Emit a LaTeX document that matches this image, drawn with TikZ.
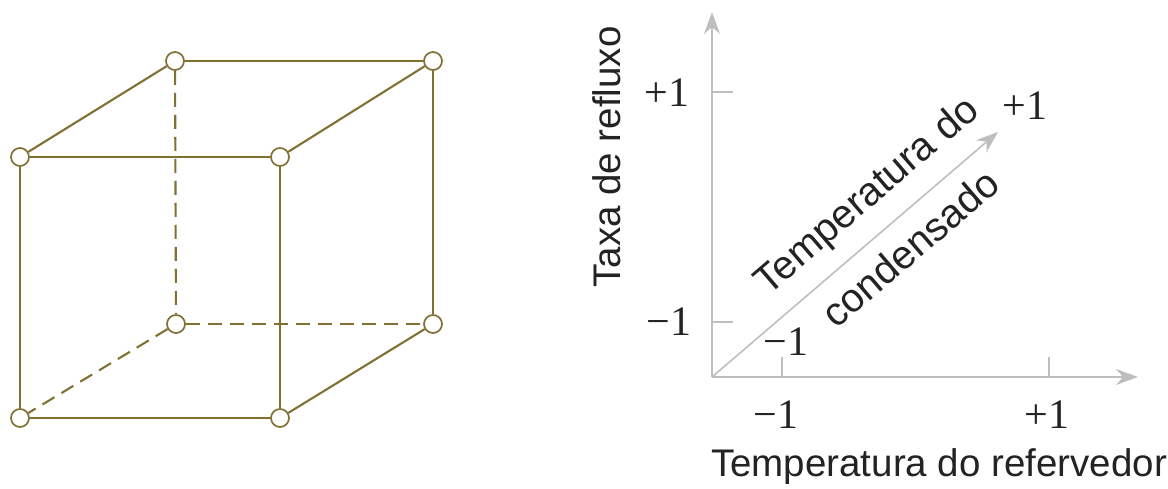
\documentclass[tikz,border=0pt]{standalone}
\usepackage{fontspec}
\setmainfont{Liberation Sans}
\newfontfamily\numfont{Liberation Serif}
\usetikzlibrary{arrows.meta}
\definecolor{cubo}{RGB}{128,112,52}
\definecolor{eixo}{RGB}{190,190,190}
\definecolor{texto}{RGB}{35,35,35}
\tikzset{
  cube edge/.style={
    line width=2.1pt,
    color=cubo
  },
  hidden edge/.style={
    cube edge,
    dash pattern=on 14pt off 8pt
  },
  vertex dot/.style={
    circle,
    draw=cubo,
    fill=white,
    line width=1.7pt,
    inner sep=0pt,
    minimum size=18pt
  },
  axis line/.style={
    -{Stealth[length=22pt, width=16pt, inset=7pt]},
    line width=1.6pt,
    color=eixo
  },
  tick mark/.style={
    line width=1.4pt,
    color=eixo
  },
  axis label/.style={
    text=texto,
    inner sep=0pt,
    font=\fontsize{38.5}{46}\selectfont
  },
  diag label/.style={
    axis label,
    rotate=40.65,
    font=\fontsize{40}{48}\selectfont
  },
  tick label/.style={
    text=texto,
    inner sep=0pt,
    font=\numfont\fontsize{42}{48}\selectfont
  }
}

\begin{document}
\begin{tikzpicture}[x=1pt, y=-1pt]

  \useasboundingbox (0, 0) rectangle (1168, 489);

  %% ---- cubo (esquerda) ----
  % face da frente
  \node[vertex dot] (ftl) at (20, 157) {};
  \node[vertex dot] (ftr) at (280, 157) {};
  \node[vertex dot] (fbl) at (20, 418) {};
  \node[vertex dot] (fbr) at (280, 418) {};
  % face de tras
  \node[vertex dot] (btl) at (175, 61) {};
  \node[vertex dot] (btr) at (433, 61) {};
  \node[vertex dot] (bbl) at (176, 324) {};
  \node[vertex dot] (bbr) at (433, 324) {};

  % arestas visiveis
  \draw[cube edge] (ftl) -- (ftr);
  \draw[cube edge] (ftl) -- (fbl);
  \draw[cube edge] (ftr) -- (fbr);
  \draw[cube edge] (fbl) -- (fbr);
  \draw[cube edge] (ftl) -- (btl);
  \draw[cube edge] (btl) -- (btr);
  \draw[cube edge] (ftr) -- (btr);
  \draw[cube edge] (btr) -- (bbr);
  \draw[cube edge] (fbr) -- (bbr);
  % arestas escondidas (tracejadas)
  \draw[hidden edge] (btl) -- (bbl);
  \draw[hidden edge] (bbl) -- (bbr);
  \draw[hidden edge] (bbl) -- (fbl);

  %% ---- eixos (direita) ----
  \coordinate (origem) at (712, 377);
  \coordinate (xfim) at (1138, 377);
  \coordinate (yfim) at (712, 12);
  \coordinate (dfim) at (998, 132);

  \draw[axis line] (origem) -- (xfim);
  \draw[axis line] (origem) -- (yfim);
  \draw[axis line] (origem) -- (dfim);

  % marcas nos eixos
  \draw[tick mark] (712, 92) -- (733, 92);
  \draw[tick mark] (712, 322) -- (733, 322);
  \draw[tick mark] (782, 377) -- (782, 357);
  \draw[tick mark] (1049, 377) -- (1049, 357);

  % valores -1 / +1
  \node[tick label] (ymais) at (667, 93) {+1};
  \node[tick label] (ymenos) at (669, 322) {−1};
  \node[tick label] (xmenos) at (776, 415) {−1};
  \node[tick label] (xmais) at (1047, 415) {+1};
  \node[tick label] (dmais) at (1025, 106) {+1};
  \node[tick label] (dmenos) at (786, 342) {−1};

  % nomes dos fatores
  \node[axis label, anchor=base] (xnome) at (939, 476) {Temperatura do refervedor};
  \node[axis label, anchor=base, rotate=90] (ynome) at (620, 157) {Taxa de refluxo};
  \node[diag label] (dnome1) at (868, 197) {Temperatura do};
  \node[diag label] (dnome2) at (910, 248) {condensado};

\end{tikzpicture}
\end{document}
